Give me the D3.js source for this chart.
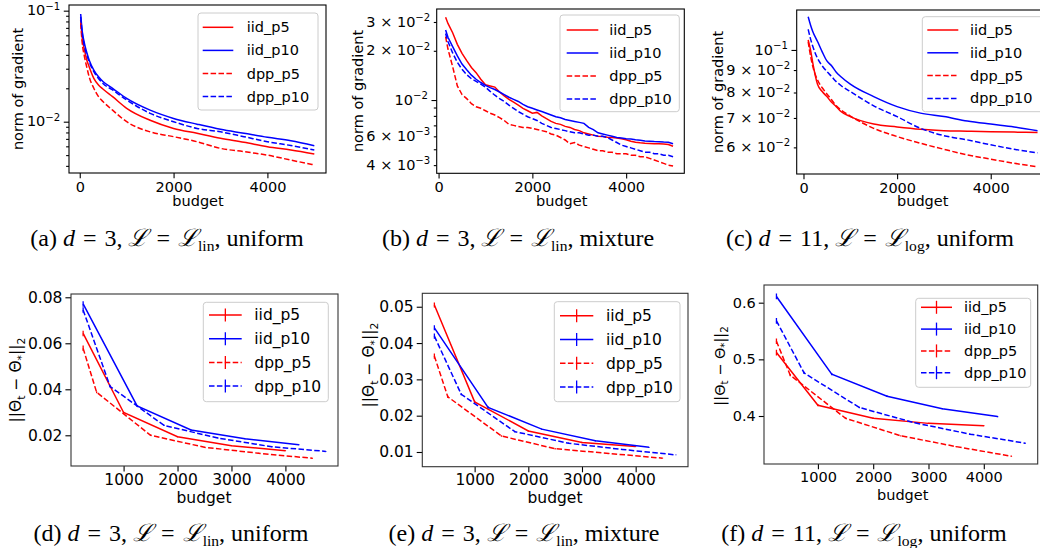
<!DOCTYPE html>
<html><head><meta charset="utf-8">
<script src="https://cdn.jsdelivr.net/npm/d3@7"></script>
<style>
body{margin:0;background:#fff}
svg{display:block;font-family:"DejaVu Sans",sans-serif}
.cap{font-family:"Liberation Serif","Times New Roman",serif}
</style></head><body><svg id="fig" width="1040" height="548"></svg>
<script>
// ---- data ----
const seriesNames=['iid_p5','iid_p10','dpp_p5','dpp_p10'];

// (a) d=3, lin, uniform
const budgetA=[20,50,100,150,200,300,400,500,700,1000,1500,2000,2500,3000,3500,4000,4500,5000];
const a_iid_p5 =[0.0824,0.058,0.0443,0.036,0.0313,0.0246,0.0214,0.0196,0.0168,0.0132,0.0103,0.0087,0.00786,0.0071,0.00654,0.00596,0.00556,0.00512];
const a_iid_p10=[0.0933,0.067,0.0508,0.042,0.036,0.0292,0.0254,0.0229,0.020,0.0162,0.0127,0.0107,0.0095,0.00853,0.00786,0.00723,0.00675,0.00608];
const a_dpp_p5 =[0.077,0.0526,0.0386,0.031,0.0254,0.0200,0.0168,0.0151,0.0127,0.0100,0.0081,0.00733,0.0066,0.00575,0.00537,0.0050,0.00451,0.00408];
const a_dpp_p10=[0.088,0.0647,0.0474,0.040,0.0347,0.0282,0.0245,0.022,0.0193,0.0157,0.0119,0.0100,0.0087,0.0081,0.00733,0.0066,0.0061,0.00556];

// (b) d=3, lin, mixture
const budgetB=[150,200,300,400,500,600,700,800,900,1000,1100,1200,1300,1400,1500,1600,1700,1800,1900,2000,2100,2200,2300,2400,2500,2600,2700,2800,2900,3000,3100,3200,3300,3400,3500,3600,3700,3800,3900,4000,4100,4200,4300,4400,4500,4600,4700,4800,4900,5000];
const b_iid_p5 =[.0321,.0294,.0258,.0219,.0193,.0174,.0158,.0147,.0134,.0124,.0122,.0120,.0112,.0106,.0101,.0097,.0093,.0089,.0086,.0083,.0084,.0080,.0077,.0074,.0072,.0071,.0069,.0068,.0066,.0065,.0063,.0062,.0061,.0060,.00598,.00592,.00590,.00585,.00580,.00572,.00560,.00552,.00548,.00545,.00543,.00541,.00540,.00538,.00535,.00522];
const b_iid_p10=[.0268,.0242,.0212,.0186,.0166,.0153,.0142,.0134,.0128,.0123,.0119,.0116,.0112,.0108,.0104,.0101,.0098,.0094,.0091,.0089,.0087,.0085,.0083,.0081,.0079,.0078,.0076,.0075,.0074,.0073,.0072,.0068,.0066,.0063,.0062,.0061,.0060,.0059,.00585,.00580,.00578,.00572,.00568,.00562,.00560,.00557,.00555,.00553,.00552,.00540];
const b_dpp_p5 =[.0244,.0205,.0160,.0122,.0108,.0102,.0095,.0091,.0089,.0086,.0083,.0081,.0078,.0075,.0071,.0070,.0069,.0068,.0068,.0067,.0066,.0065,.0064,.0062,.0061,.0059,.0057,.0054,.0055,.0053,.0052,.0051,.0050,.0049,.0049,.0048,.0048,.0047,.0047,.0047,.0046,.0046,.0045,.0045,.0044,.0043,.0042,.0041,.0040,.00395];
const b_dpp_p10=[.0255,.0228,.0194,.0170,.0154,.0143,.0135,.0130,.0125,.0120,.0113,.0107,.0102,.0098,.0093,.0089,.0085,.0082,.0079,.0077,.0075,.0072,.0070,.0068,.0067,.0066,.0065,.0064,.0063,.0063,.0062,.0061,.0061,.0060,.0060,.0059,.0057,.0055,.0053,.0052,.0051,.0050,.0049,.0048,.0048,.0047,.0047,.0046,.0046,.0045];

// (c) d=11, log, uniform
const budgetC=[100,150,200,300,400,500,600,700,800,1000,1500,2000,2500,3000,3500,4000,4500,5000];
const c_iid_p5 =[0.1054,0.100,0.0932,0.0835,0.0804,0.0783,0.076,0.0743,0.0724,0.0705,0.0678,0.0668,0.0660,0.0655,0.0653,0.0651,0.065,0.0649];
const c_iid_p10=[0.119,0.114,0.110,0.1045,0.099,0.0944,0.092,0.089,0.0869,0.0836,0.0783,0.0743,0.0718,0.0705,0.0689,0.0678,0.0668,0.0655];
const c_dpp_p5 =[0.1045,0.097,0.0916,0.0854,0.082,0.0794,0.077,0.0746,0.073,0.0707,0.0663,0.0635,0.0613,0.0594,0.0577,0.0564,0.0552,0.0542];
const c_dpp_p10=[0.1114,0.106,0.1018,0.0957,0.092,0.0893,0.087,0.0847,0.083,0.0804,0.0746,0.0705,0.0663,0.0638,0.0624,0.0608,0.0594,0.0583];

// bottom row: budgets per series
const budgetIidP5 =[250,1000,2000,3000,4000];
const budgetIidP10=[250,1250,2250,3250,4250];
const budgetDppP5 =[250,500,1500,2500,3500,4500];
const budgetDppP10=[250,750,1750,2750,3750,4750];

// (d)
const d_iid_p5 =[0.0643,0.0299,0.0194,0.0155,0.0133];
const d_iid_p10=[0.0771,0.0328,0.0223,0.0185,0.0159];
const d_dpp_p5 =[0.0578,0.0387,0.0200,0.0148,0.0122,0.0100];
const d_dpp_p10=[0.0745,0.0412,0.0243,0.0188,0.0150,0.0130];
const d_err=[0.0012,0.0004,0.0003,0.0002,0.0002,0.0002];
// (e)
const e_iid_p5 =[0.0505,0.0238,0.0158,0.0126,0.0115];
const e_iid_p10=[0.0442,0.0223,0.0163,0.0131,0.0113];
const e_dpp_p5 =[0.0364,0.0252,0.0144,0.0109,0.0096,0.0083];
const e_dpp_p10=[0.0419,0.0259,0.0156,0.0124,0.0107,0.0092];
const e_err=[0.0007,0.0003,0.0002,0.0002,0.0001,0.0001];
// (f)
const f_iid_p5 =[0.512,0.419,0.396,0.387,0.383];
const f_iid_p10=[0.611,0.474,0.435,0.413,0.399];
const f_dpp_p5 =[0.532,0.472,0.396,0.365,0.346,0.329];
const f_dpp_p10=[0.568,0.476,0.415,0.388,0.368,0.352];
const f_err=[0.005,0.002,0.0015,0.001,0.001,0.001];

// ticks
const xTicksTop=[0,2000,4000], xTicksBottom=[1000,2000,3000,4000];
const aYMajor=[0.1,0.01], aYMinor=[0.004,0.005,0.006,0.007,0.008,0.009,0.02,0.03,0.04,0.05,0.06,0.07,0.08,0.09];
const aYLabels=[[0.1,'10','−1'],[0.01,'10','−2']];
const bYMajor=[0.01], bYMinor=[0.004,0.005,0.006,0.007,0.008,0.009,0.02,0.03];
const bYLabels=[[0.03,'3 × 10','−2'],[0.02,'2 × 10','−2'],[0.01,'10','−2'],[0.006,'6 × 10','−3'],[0.004,'4 × 10','−3']];
const cYMajor=[0.1], cYMinor=[0.06,0.07,0.08,0.09];
const cYLabels=[[0.1,'10','−1'],[0.09,'9 × 10','−2'],[0.08,'8 × 10','−2'],[0.07,'7 × 10','−2'],[0.06,'6 × 10','−2']];
const dYTicks=[0.02,0.04,0.06,0.08], eYTicks=[0.01,0.02,0.03,0.04,0.05], fYTicks=[0.4,0.5,0.6];

// captions
const capLetters=['a','b','c','d','e','f'];
const capDim=['3','3','11','3','3','11'];
const capLoss=['lin','lin','log','lin','lin','log'];
const capDist=['uniform','mixture','uniform','uniform','mixture','uniform'];

// ---- drawing ----
const svg=d3.select('#fig');
svg.append('rect').attr('width',1040).attr('height',548).attr('fill','#fff');
const colors=['#ff0000','#0000ff','#ff0000','#0000ff'], dashed=[false,false,true,true];
const botX=[budgetIidP5,budgetIidP10,budgetDppP5,budgetDppP10];

const panels=[
 {box:[69,5,326,173],xd:[-229,5249],yd:[0.00345,0.1125],log:true,fs:14.5,
  ys:[a_iid_p5,a_iid_p10,a_dpp_p5,a_dpp_p10],xs:[budgetA,budgetA,budgetA,budgetA],
  xt:xTicksTop,ymaj:aYMajor,ymin:aYMinor,ylab:aYLabels,curve:d3.curveMonotoneX,
  leg:[198,13,120,97,27.3,23.1,202.7,30.6,246.7],yl:[17.5,89],xl:[198,206],cap:[167,246]},
 {box:[436.7,9,684.3,173.3],xd:[-40,5240],yd:[0.003565,0.03602],log:true,fs:14.5,
  ys:[b_iid_p5,b_iid_p10,b_dpp_p5,b_dpp_p10],xs:[budgetB,budgetB,budgetB,budgetB],
  xt:xTicksTop,ymaj:bYMajor,ymin:bYMinor,ylab:bYLabels,curve:d3.curveLinear,
  leg:[560,15,119.3,96.7,30,23,566.7,31.6,609.3],yl:[358,91],xl:[561.7,206],cap:[518,246]},
 {box:[796.7,10,1049,174],xd:[-145,5245],yd:[0.05218,0.1233],log:true,fs:14.5,
  ys:[c_iid_p5,c_iid_p10,c_dpp_p5,c_dpp_p10],xs:[budgetC,budgetC,budgetC,budgetC],
  xt:xTicksTop,ymaj:cYMajor,ymin:cYMinor,ylab:cYLabels,curve:d3.curveMonotoneX,
  leg:[922.3,16.7,125,95,30,22.8,927.3,31,970],yl:[718,92],xl:[922.7,206],cap:[870,246]},
 {box:[71,294,338,466],xd:[25,4975],yd:[0.00665,0.08143],log:false,fs:15.5,
  ys:[d_iid_p5,d_iid_p10,d_dpp_p5,d_dpp_p10],xs:botX,err:d_err,fmt:d3.format('.2f'),
  xt:xTicksBottom,yt:dYTicks,leg:[203.3,302.3,125,99.4,315,23.7,209,32.7,254.3],yl:[16,380],xl:[204,503],cap:[171,541]},
 {box:[422.3,293.3,688,466.7],xd:[25,4975],yd:[0.00595,0.0537],log:false,fs:15.5,
  ys:[e_iid_p5,e_iid_p10,e_dpp_p5,e_dpp_p10],xs:botX,err:e_err,fmt:d3.format('.2f'),
  xt:xTicksBottom,yt:eYTicks,leg:[554.3,301.7,125.7,100,315.7,23.8,560,33.3,606],yl:[369,365],xl:[555,503],cap:[524,541]},
 {box:[764,285,1037.7,464],xd:[25,4975],yd:[0.3153,0.6312],log:false,fs:14.5,
  ys:[f_iid_p5,f_iid_p10,f_dpp_p5,f_dpp_p10],xs:botX,err:f_err,fmt:d3.format('.1f'),
  xt:xTicksBottom,yt:fYTicks,leg:[915.7,298.3,115,89,307.3,21.8,921,31,964],yl:[720,366],xl:[902.7,500],cap:[864,541]}
];

function sup(t,base,exp){t.append('tspan').text(base);t.append('tspan').attr('font-size','70%').attr('dy','-0.55em').text(exp);}

panels.forEach((p,i)=>{
  const [L,T,R,B]=p.box, fs=p.fs, tick=fs*0.36, bottom=i>=3;
  const x=d3.scaleLinear().domain(p.xd).range([L,R]);
  const y=(p.log?d3.scaleLog():d3.scaleLinear()).domain(p.yd).range([B,T]);
  const g=svg.append('g').attr('font-size',fs);
  g.append('clipPath').attr('id','clip'+i).append('rect').attr('x',L).attr('y',T).attr('width',R-L).attr('height',B-T);
  const plot=g.append('g').attr('clip-path',`url(#clip${i})`);

  p.ys.forEach((vals,k)=>{
    const pts=vals.map((v,j)=>({b:p.xs[k][j],v,e:p.err?p.err[j]:0}));
    plot.append('path').datum(pts)
      .attr('fill','none').attr('stroke',colors[k]).attr('stroke-width',1.5)
      .attr('stroke-dasharray',dashed[k]?'5.5,2.4':null)
      .attr('d',d3.line().x(d=>x(d.b)).y(d=>y(d.v)).curve(p.curve||d3.curveLinear));
    if(p.err) plot.selectAll(null).data(pts).enter().append('line')
      .attr('stroke',colors[k]).attr('stroke-width',1.3)
      .attr('x1',d=>x(d.b)).attr('x2',d=>x(d.b))
      .attr('y1',d=>y(d.v-d.e)).attr('y2',d=>y(d.v+d.e));
  });

  // x axis
  g.append('g').attr('transform',`translate(0,${B})`)
    .call(d3.axisBottom(x).tickValues(p.xt).tickSize(tick).tickPadding(bottom?2:3).tickFormat(d3.format('d')));
  // y axis
  if(p.log){
    g.append('g').attr('transform',`translate(${L},0)`)
      .call(d3.axisLeft(y).tickValues(p.ymin).tickSize(fs*0.2).tickFormat(''));
    g.append('g').attr('transform',`translate(${L},0)`)
      .call(d3.axisLeft(y).tickValues(p.ymaj).tickSize(tick).tickFormat(''));
    const lab=g.append('g').attr('text-anchor','end');
    p.ylab.forEach(([v,base,exp])=>{
      const t=lab.append('text').attr('x',L-(p.ymaj.includes(v)?tick:fs*0.2)-3.5).attr('y',y(v)).attr('dy','0.32em');
      sup(t,base,exp);
    });
  }else{
    g.append('g').attr('transform',`translate(${L},0)`)
      .call(d3.axisLeft(y).tickValues(p.yt).tickSize(tick).tickPadding(3).tickFormat(p.fmt));
  }
  g.selectAll('.domain').remove();
  g.selectAll('.tick line').attr('stroke','#000').attr('stroke-width',1.1);
  g.selectAll('.tick text').attr('fill','#000').attr('font-size',fs).attr('font-family','DejaVu Sans');

  g.append('rect').attr('x',L).attr('y',T).attr('width',R-L).attr('height',B-T)
    .attr('fill','none').attr('stroke',bottom?'#333':'#000').attr('stroke-width',1.1);

  // axis labels
  g.append('text').attr('x',p.xl[0]).attr('y',p.xl[1]).attr('text-anchor','middle').text('budget');
  const yl=g.append('text').attr('transform',`translate(${p.yl[0]},${p.yl[1]}) rotate(-90)`)
    .attr('text-anchor','middle').attr('dy','0.35em');
  if(!bottom) yl.text('norm of gradient');
  else{
    const sub=(s)=>{yl.append('tspan').attr('font-size','70%').attr('dy','0.3em').text(s);};
    yl.append('tspan').text('||Θ'); sub('t');
    yl.append('tspan').attr('dy','-0.21em').text(' − Θ'); sub('*');
    yl.append('tspan').attr('dy','-0.21em').text('||'); sub('2');
  }

  // legend
  const [lx,ly,lw,lh,r0,dr,hx,hw,tx]=p.leg;
  const lg=g.append('g');
  lg.append('rect').attr('x',lx).attr('y',ly).attr('width',lw).attr('height',lh).attr('rx',3)
    .attr('fill','#fff').attr('fill-opacity',0.8).attr('stroke','#cccccc').attr('stroke-width',1);
  seriesNames.forEach((n,k)=>{
    const yy=r0+k*dr;
    lg.append('line').attr('x1',hx).attr('x2',hx+hw).attr('y1',yy).attr('y2',yy)
      .attr('stroke',colors[k]).attr('stroke-width',1.5).attr('stroke-dasharray',dashed[k]?'5.5,2.4':null);
    if(bottom) lg.append('line').attr('x1',hx+hw/2).attr('x2',hx+hw/2).attr('y1',yy-6.5).attr('y2',yy+6.5)
      .attr('stroke',colors[k]).attr('stroke-width',1.3);
    lg.append('text').attr('x',tx).attr('y',yy).attr('dy','0.35em').text(n);
  });

  // caption
  const c=svg.append('text').attr('class','cap').attr('x',p.cap[0]).attr('y',p.cap[1])
    .attr('text-anchor','middle').attr('font-size',24);
  c.append('tspan').text(`(${capLetters[i]}) `);
  c.append('tspan').attr('font-style','italic').text('d');
  c.append('tspan').text(`\u2004=\u2004${capDim[i]}, `);
  c.append('tspan').attr('font-family','DejaVu Serif').attr('font-style','italic').text('ℒ');
  c.append('tspan').text('\u2004=\u2004');
  c.append('tspan').attr('font-family','DejaVu Serif').attr('font-style','italic').text('ℒ');
  c.append('tspan').attr('font-size','65%').attr('dy','0.3em').text(capLoss[i]);
  c.append('tspan').attr('dy','-0.2em').text(`, ${capDist[i]}`);
});
</script></body></html>
